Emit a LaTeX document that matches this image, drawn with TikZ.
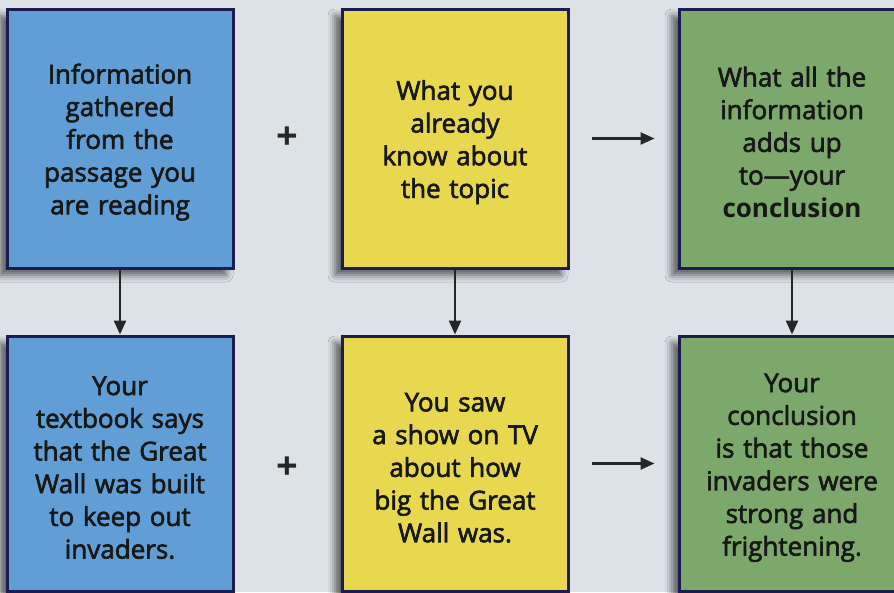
\documentclass[tikz,border=0pt]{standalone}
\usepackage{fontspec}
\setmainfont{Open Sans}
\newfontfamily\boxfont{Open Sans}[FakeBold=2.4, Ligatures=TeX]
\usetikzlibrary{arrows.meta,shadows.blur}
\definecolor{bgc}{RGB}{221,226,230}
\definecolor{bluef}{RGB}{98,158,214}
\definecolor{yelf}{RGB}{232,216,80}
\definecolor{grnf}{RGB}{124,168,108}
\definecolor{navy}{RGB}{28,28,78}
\definecolor{txt}{RGB}{22,24,22}
\tikzset{
  box/.style={draw=navy, line width=3pt, minimum width=226pt, minimum height=259pt,
    text width=214pt, align=center, text=txt, inner sep=0pt,
    font=\boxfont\fontsize{26}{32.7}\selectfont,
    execute at begin node={\rule{0pt}{27pt}},
    blur shadow={shadow xshift=-7pt, shadow yshift=-7pt, shadow blur radius=7pt, shadow opacity=60}},
  bbox/.style={box, minimum height=255pt},
  conn/.style={draw=black!85, line width=2.4pt, -{Triangle[length=14pt,width=12pt]}},
  plus/.style={font=\fontsize{38}{38}\selectfont\bfseries, text=black!85, inner sep=0pt}
}
\begin{document}
\begin{tikzpicture}[x=1pt,y=-1pt]
\fill[bgc] (0,0) rectangle (894,592);
\useasboundingbox (0,0) rectangle (894,592);
\node[box, fill=bluef] (bt) at (120,138.5) {Information\\gathered\\from the\\passage you\\are reading};
\node[box, fill=yelf] (yt) at (455,138.5) {What you\\already\\know about\\the topic};
\node[box, fill=grnf] (gt) at (792,138.5) {What all the\\information\\adds up\\to---your\\{\normalfont\bfseries conclusion}};
\node[bbox, fill=bluef] (bb) at (120,463.5) {Your\\textbook says\\that the Great\\Wall was built\\to keep out\\invaders.};
\node[bbox, fill=yelf] (yb) at (455,463.5) {You saw\\a show on TV\\about how\\big the Great\\Wall was.};
\node[bbox, fill=grnf] (gb) at (792,463.5) {Your\\conclusion\\is that those\\invaders were\\strong and\\frightening.};
\node[plus] (p1) at (287,138) {+};
\node[plus] (p2) at (287,468) {+};
\draw[conn] (bt.south) -- (bb.north);
\draw[conn] (yt.south) -- (yb.north);
\draw[conn] (gt.south) -- (gb.north);
\draw[conn] ([xshift=22pt]yt.east) -- ([xshift=-23pt]gt.west);
\draw[conn] ([xshift=22pt]yb.east) -- ([xshift=-23pt]gb.west);
\end{tikzpicture}
\end{document}
